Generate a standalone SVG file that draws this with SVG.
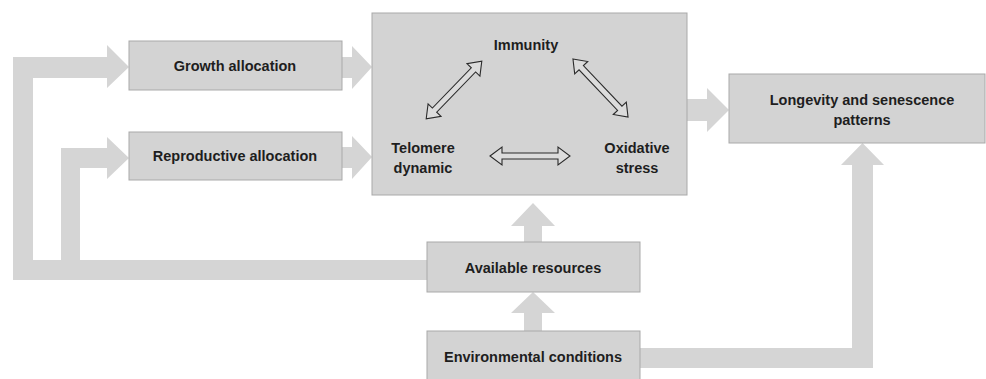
<svg xmlns="http://www.w3.org/2000/svg" width="986" height="379" viewBox="0 0 986 379">
  <style>
    .box { fill: #d3d3d3; stroke: #a9a9a9; stroke-width: 1; }
    .flow { fill: #d5d5d5; stroke: none; }
    .dbl { fill: #dcdcdc; stroke: #2a2a2a; stroke-width: 1.1; stroke-linejoin: miter; }
    text { font-family: "Liberation Sans", Arial, sans-serif; font-weight: bold; font-size: 14.5px; fill: #1e1e1e; text-anchor: middle; }
  </style>
  <defs>
    <path id="dblArrow" d="M-40,0 L-28,-9 L-28,-3 L28,-3 L28,-9 L40,0 L28,9 L28,3 L-28,3 L-28,9 Z"/>
  </defs>
  <rect width="986" height="379" fill="#ffffff"/>

  <g id="connectors">
    <path class="flow" d="M427,260 L33,260 L33,78 L107,78 L107,88 L129,67 L107,45 L107,57 L13,57 L13,280 L427,280 Z"/>
    <path class="flow" d="M61,261 L61,148 L107,148 L107,137 L129,158 L107,179 L107,168 L80,168 L80,261 Z"/>
    <path class="flow" d="M342,57 L352,57 L352,46 L372,67 L352,89 L352,78 L342,78 Z"/>
    <path class="flow" d="M342,147 L352,147 L352,136 L372,157 L352,179 L352,168 L342,168 Z"/>
    <path class="flow" d="M687,99 L707,99 L707,88 L729,110 L707,132 L707,121 L687,121 Z"/>
    <path class="flow" d="M524,242 L524,226 L511,226 L533,203 L555,226 L542,226 L542,242 Z"/>
    <path class="flow" d="M524,331 L524,313 L511,313 L533,292 L555,313 L542,313 L542,331 Z"/>
    <path class="flow" d="M640,348 L852,348 L852,165 L841,165 L862.5,143 L884,165 L873,165 L873,368 L640,368 Z"/>
  </g>

  <g id="growth">
    <rect class="box" x="129" y="41" width="213" height="49"/>
    <text x="235" y="71">Growth allocation</text>
  </g>
  <g id="reproductive">
    <rect class="box" x="129" y="132" width="213" height="48"/>
    <text x="235" y="161">Reproductive allocation</text>
  </g>
  <g id="core">
    <rect class="box" x="372" y="13" width="315" height="182"/>
    <text x="526" y="50">Immunity</text>
    <text x="423" y="153">Telomere</text>
    <text x="423" y="173">dynamic</text>
    <text x="637" y="153">Oxidative</text>
    <text x="637" y="173">stress</text>
    <use href="#dblArrow" class="dbl" transform="translate(454,90) rotate(-46)"/>
    <use href="#dblArrow" class="dbl" transform="translate(600.5,88) rotate(46.5)"/>
    <use href="#dblArrow" class="dbl" transform="translate(530,156)"/>
  </g>
  <g id="longevity">
    <rect class="box" x="729" y="74" width="256" height="69"/>
    <text x="862" y="105">Longevity and senescence</text>
    <text x="862" y="125">patterns</text>
  </g>
  <g id="resources">
    <rect class="box" x="427" y="242" width="213" height="50"/>
    <text x="533" y="273">Available resources</text>
  </g>
  <g id="environment">
    <rect class="box" x="427" y="331" width="213" height="60"/>
    <text x="533" y="362">Environmental conditions</text>
  </g>
</svg>
